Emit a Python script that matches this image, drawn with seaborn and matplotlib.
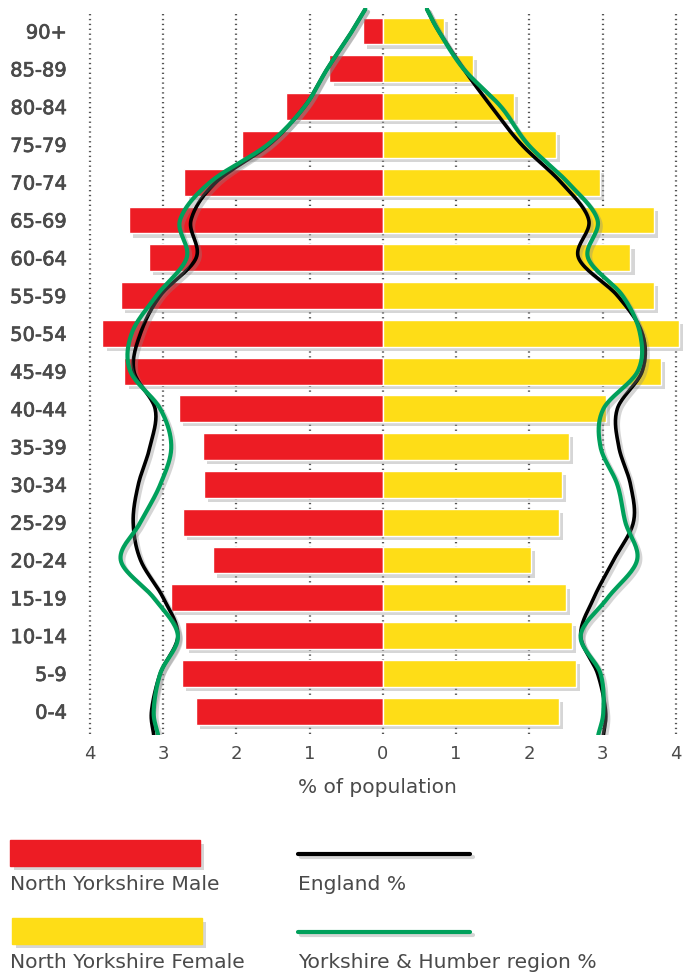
# population pyramid - North Yorkshire vs England / Yorkshire & Humber

import numpy as np
import pandas as pd
import matplotlib
matplotlib.use("Agg")
import matplotlib.pyplot as plt
import matplotlib.patheffects as pe
import seaborn as sns

ages = ["90+", "85-89", "80-84", "75-79", "70-74", "65-69", "60-64", "55-59",
        "50-54", "45-49", "40-44", "35-39", "30-34", "25-29", "20-24",
        "15-19", "10-14", "5-9", "0-4"]

male = [0.27, 0.73, 1.33, 1.93, 2.71, 3.47, 3.20, 3.58, 3.83, 3.53,
        2.78, 2.46, 2.44, 2.73, 2.32, 2.90, 2.70, 2.75, 2.55]
female = [0.83, 1.23, 1.79, 2.36, 2.96, 3.70, 3.38, 3.70, 4.04, 3.80,
          3.04, 2.54, 2.44, 2.40, 2.02, 2.50, 2.58, 2.64, 2.40]

england_m = [0.42, 0.76, 1.07, 1.55, 2.28, 2.62, 2.55, 3.04, 3.31, 3.40,
             3.11, 3.18, 3.34, 3.41, 3.31, 3.00, 2.80, 3.04, 3.16]
england_f = [0.76, 1.10, 1.48, 1.89, 2.43, 2.81, 2.67, 3.20, 3.54, 3.54,
             3.20, 3.22, 3.38, 3.42, 3.15, 2.88, 2.70, 2.93, 3.04]
yh_m = [0.42, 0.76, 1.07, 1.57, 2.36, 2.77, 2.68, 3.09, 3.43, 3.45,
        3.04, 2.89, 3.04, 3.31, 3.58, 3.13, 2.80, 3.04, 3.13]
yh_f = [0.76, 1.10, 1.61, 1.98, 2.52, 2.93, 2.80, 3.27, 3.51, 3.48,
        3.01, 2.97, 3.20, 3.31, 3.47, 3.07, 2.70, 2.97, 3.01]

# where the curves start (above 90+) and finish (below 0-4)
line_ends = {"england_m": (0.24, 3.13), "england_f": (0.60, 3.01),
             "yh_m": (0.24, 3.07), "yh_f": (0.60, 2.94)}

xticks = [-4, -3, -2, -1, 0, 1, 2, 3, 4]
xticklabels = ["4", "3", "2", "1", "0", "1", "2", "3", "4"]

RED = "#ED1C24"
YELLOW = "#FEDD17"
GREEN = "#00A05B"
TXT = "#4a4a4a"

sns.set_style("white")
plt.rcParams["font.family"] = ["DejaVu Sans"]

fig = plt.figure(figsize=(6.93, 9.74), dpi=100)
ax = fig.add_axes([85 / 693, 1 - 735 / 974, 605 / 693, 727 / 974])

df = pd.DataFrame({"age": ages, "male": [-v for v in male], "female": female})

shadow = [pe.SimplePatchShadow(offset=(3, -3), shadow_rgbFace="#9a9a9a", alpha=0.4), pe.Normal()]

for col, colour in [("male", RED), ("female", YELLOW)]:
    sns.barplot(data=df, x=col, y="age", orient="h", color=colour,
                width=0.71, saturation=1, ax=ax, zorder=2)
for p in ax.patches:
    p.set_path_effects(shadow)


def smooth(vals, top, bottom, n=20):
    # catmull-rom through the read points, just to draw the curve smoothly
    ys = np.concatenate([[-0.58], np.arange(len(vals)), [18.63]])
    xs = np.concatenate([[top], vals, [bottom]])
    P = np.column_stack([xs, ys])
    P = np.vstack([2 * P[0] - P[1], P, 2 * P[-1] - P[-2]])
    out = []
    t = np.linspace(0, 1, n, endpoint=False)[:, None]
    for i in range(1, len(P) - 2):
        p0, p1, p2, p3 = P[i - 1], P[i], P[i + 1], P[i + 2]
        seg = 0.5 * ((2 * p1) + (-p0 + p2) * t + (2 * p0 - 5 * p1 + 4 * p2 - p3) * t ** 2
                     + (-p0 + 3 * p1 - 3 * p2 + p3) * t ** 3)
        out.append(seg)
    out.append(P[-2][None, :])
    out = np.vstack(out)
    return out[:, 0], out[:, 1]


lshadow = [pe.SimpleLineShadow(offset=(2, -2), shadow_color="#888888", alpha=0.35), pe.Normal()]
series = [("england_m", england_m, -1, "black", 2.6), ("england_f", england_f, 1, "black", 2.6),
          ("yh_m", yh_m, -1, GREEN, 3.0), ("yh_f", yh_f, 1, GREEN, 3.0)]
for name, vals, sign, colour, lw in series:
    top, bottom = line_ends[name]
    sx, sy = smooth(np.array(vals) * sign, top * sign, bottom * sign)
    ax.plot(sx, sy, color=colour, lw=lw, solid_capstyle="round", zorder=4 if colour == GREEN else 3,
            path_effects=lshadow)

# dotted grid
for xv in xticks:
    ax.plot([xv, xv], [-0.45, 18.63], color="#555555", lw=1.6, ls=(0, (0.6, 1.6)), zorder=1)

ax.set_xlim(-4 - 5 / 73.7, (690 - 381) / 73.7)
ax.set_ylim(18.63, -0.61)
ax.set_xticks(xticks)
ax.set_xticklabels(xticklabels, fontsize=13, color=TXT)
ax.set_yticks(range(len(ages)))
ax.set_yticklabels(ages, fontsize=14, color=TXT,
                   path_effects=[pe.withStroke(linewidth=0.5, foreground=TXT)])
ax.tick_params(axis="y", length=0, pad=13)
ax.tick_params(axis="x", length=0, pad=7)
ax.set_xlabel("% of population", fontsize=14.5, color=TXT, labelpad=11, x=0.483)
ax.set_ylabel("")
sns.despine(ax=ax, left=True, bottom=True)
ax.grid(False)

# legend drawn in pixel coordinates
lg = fig.add_axes([0, 0, 1, 230 / 974])
lg.set_xlim(0, 693)
lg.set_ylim(974, 744)
lg.axis("off")
lg.add_patch(plt.Rectangle((10, 840), 190, 26, color=RED, path_effects=shadow))
lg.add_patch(plt.Rectangle((12, 918), 190, 26, color=YELLOW, path_effects=shadow))
lg.plot([298, 470], [854, 854], color="black", lw=3, solid_capstyle="round", path_effects=lshadow)
lg.plot([298, 470], [932, 932], color=GREEN, lw=3, solid_capstyle="round", path_effects=lshadow)
for x, y, s in [(10, 884, "North Yorkshire Male"), (10, 962, "North Yorkshire Female"),
                (298, 884, "England %"), (298, 962, "Yorkshire & Humber region %")]:
    lg.text(x, y, s, fontsize=14.6, color=TXT, va="center", ha="left")

fig.savefig("out.png", dpi=100)
